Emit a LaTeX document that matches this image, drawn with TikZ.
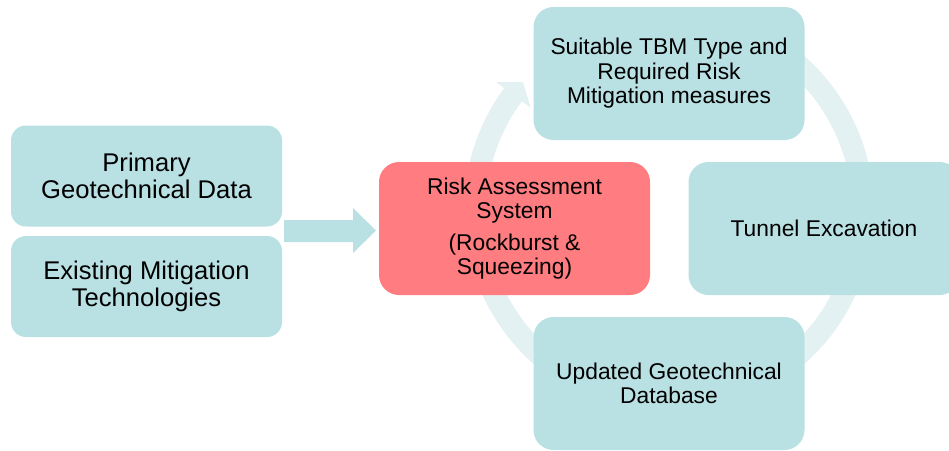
\documentclass[tikz,border=0pt]{standalone}
\usepackage{fontspec}
\setmainfont{Liberation Sans}
\definecolor{boxfill}{RGB}{185,224,227}
\definecolor{riskfill}{RGB}{255,124,128}
\definecolor{ringfill}{RGB}{228,241,243}
\begin{document}
\begin{tikzpicture}[x=1pt,y=-1pt,
  card/.style={fill=boxfill, rounded corners=20pt, inner sep=0pt, align=center,
    text=black, font=\fontsize{22.8}{24.5}\selectfont},
  sidecard/.style={card, rounded corners=15pt, minimum width=271pt, minimum height=101pt,
    font=\fontsize{25.6}{27.2}\selectfont},
  bigcard/.style={card, minimum width=271pt, minimum height=133pt}]
\useasboundingbox (0,0) rectangle (949,450);
\clip (0,0) rectangle (949,450);

% circular flow band behind the cycle, ending in an arrow head
\draw[ringfill, line width=22pt]
  plot[domain=-80:216.8, samples=150] ({669+194*cos(\x)},{210+194*sin(\x)});
\fill[ringfill]
  ({669+172*cos(216.5)},{210+172*sin(216.5)})
  -- ({669+194*cos(221.2)},{210+194*sin(221.2)})
  -- ({669+215*cos(216.5)},{210+215*sin(216.5)}) -- cycle;

% inputs
\node[sidecard] (prim)  at (146.5,176)   {Primary\\Geotechnical Data};
\node[sidecard] (exist) at (146.5,286.5) {Existing Mitigation\\Technologies};

% block arrow feeding the assessment
\fill[boxfill] (284,220) -- (353,220) -- (353,208) -- (376,230.5)
  -- (353,253) -- (353,242) -- (284,242) -- cycle;

% cycle
\node[bigcard, fill=riskfill] (risk) at (514.5,228.5)
  {Risk Assessment\\System\\[7pt](Rockburst \&\\Squeezing)};
\node[bigcard] (suit)   at (669,73.5)  {Suitable TBM Type and\\Required Risk\\Mitigation measures};
\node[bigcard] (tunnel) at (824,228.5) {Tunnel Excavation};
\node[bigcard] (upd)    at (669,383.5) {Updated Geotechnical\\Database};
\end{tikzpicture}
\end{document}
